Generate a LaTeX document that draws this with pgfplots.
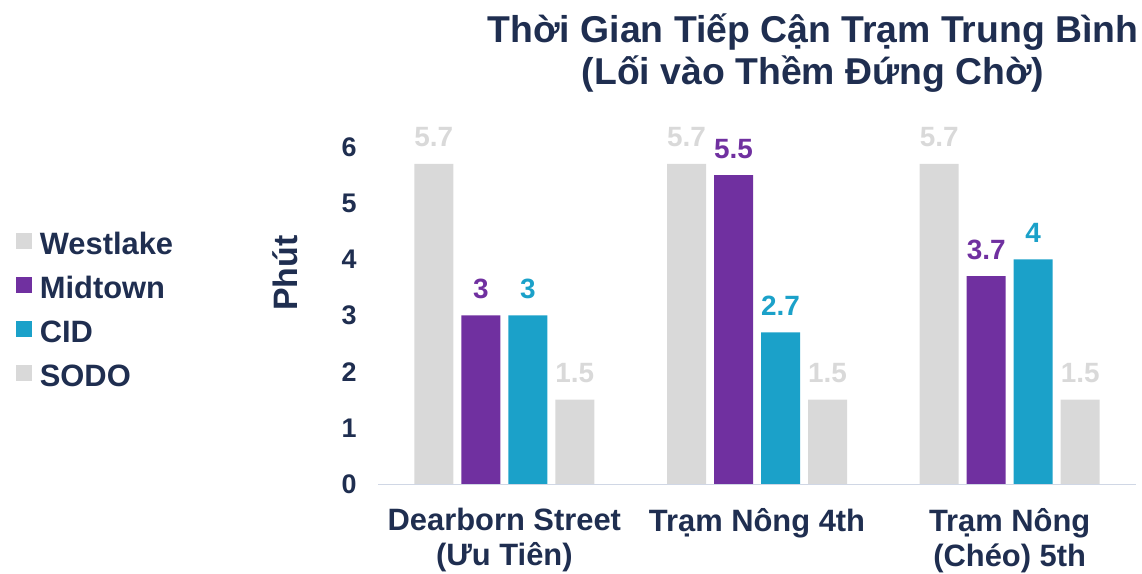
\documentclass[border=0pt]{standalone}
\usepackage{fontspec}
\setmainfont{Liberation Sans}
\usepackage{pgfplots}
\pgfplotsset{compat=1.18}
\definecolor{txt}{HTML}{1F2E50}
\definecolor{lgray}{HTML}{D9D9D9}
\definecolor{mpurple}{HTML}{7030A0}
\definecolor{cteal}{HTML}{1BA1C9}
\definecolor{axisline}{HTML}{D0D7E5}
\begin{document}
\begin{tikzpicture}
\useasboundingbox (0,0) rectangle (1142bp,574bp);
\begin{axis}[
  at={(378bp,90bp)}, anchor=south west,
  width=758bp, height=337bp, scale only axis,
  ybar=8bp, bar width=39bp,
  xmin=-0.5, xmax=2.5, ymin=0, ymax=6,
  axis x line*=bottom, axis y line*=left,
  x axis line style={axisline, line width=1pt},
  y axis line style={draw=none},
  major tick length=0pt,
  xtick={0,1,2},
  xticklabels={{Dearborn Street\\(Ưu Tiên)},{Trạm Nông 4th},{Trạm Nông\\(Chéo) 5th}},
  xticklabel style={align=center, font=\fontsize{31}{35}\selectfont\bfseries, text=txt, anchor=north, yshift=-21bp},
  ytick={0,1,2,3,4,5,6},
  yticklabel style={font=\fontsize{27}{30}\selectfont\bfseries, text=txt, xshift=-18bp},
  /pgf/number format/assume math mode=true,
  ylabel={Phút},
  ylabel style={at={(-0.1227,0.626)}, anchor=center, font=\fontsize{34}{38}\selectfont\bfseries, text=txt},
  nodes near coords,
  every node near coord/.append style={font=\fontsize{28}{30}\selectfont\bfseries, anchor=base, yshift=17bp, inner sep=0pt},
  legend style={at={(-0.482,0.757)}, anchor=north west, draw=none, fill=none,
    font=\fontsize{31}{36}\selectfont\bfseries, text=txt, row sep=12bp,
    nodes={text height=23bp, text depth=9bp, inner sep=0pt, inner xsep=0bp}},
  legend cell align=left,
  legend image code/.code={\fill[#1,draw=none] (0bp,-2bp) rectangle (16bp,14bp); \path (24bp,0bp);},
]
\addplot[fill=lgray, draw=none, every node near coord/.append style={text=lgray}] coordinates {(0,5.7) (1,5.7) (2,5.7)};
\addlegendentry{Westlake}
\addplot[fill=mpurple, draw=none, every node near coord/.append style={text=mpurple}] coordinates {(0,3) (1,5.5) (2,3.7)};
\addlegendentry{Midtown}
\addplot[fill=cteal, draw=none, every node near coord/.append style={text=cteal}] coordinates {(0,3) (1,2.7) (2,4)};
\addlegendentry{CID}
\addplot[fill=lgray, draw=none, every node near coord/.append style={text=lgray}] coordinates {(0,1.5) (1,1.5) (2,1.5)};
\addlegendentry{SODO}
\end{axis}
\node[font=\fontsize{37.5}{42}\selectfont\bfseries, text=txt, anchor=base, inner sep=0pt] at (813bp,531bp) {Thời Gian Tiếp Cận Trạm Trung Bình};
\node[font=\fontsize{37.5}{42}\selectfont\bfseries, text=txt, anchor=base, inner sep=0pt] at (813bp,489bp) {(Lối vào Thềm Đứng Chờ)};
\end{tikzpicture}
\end{document}
